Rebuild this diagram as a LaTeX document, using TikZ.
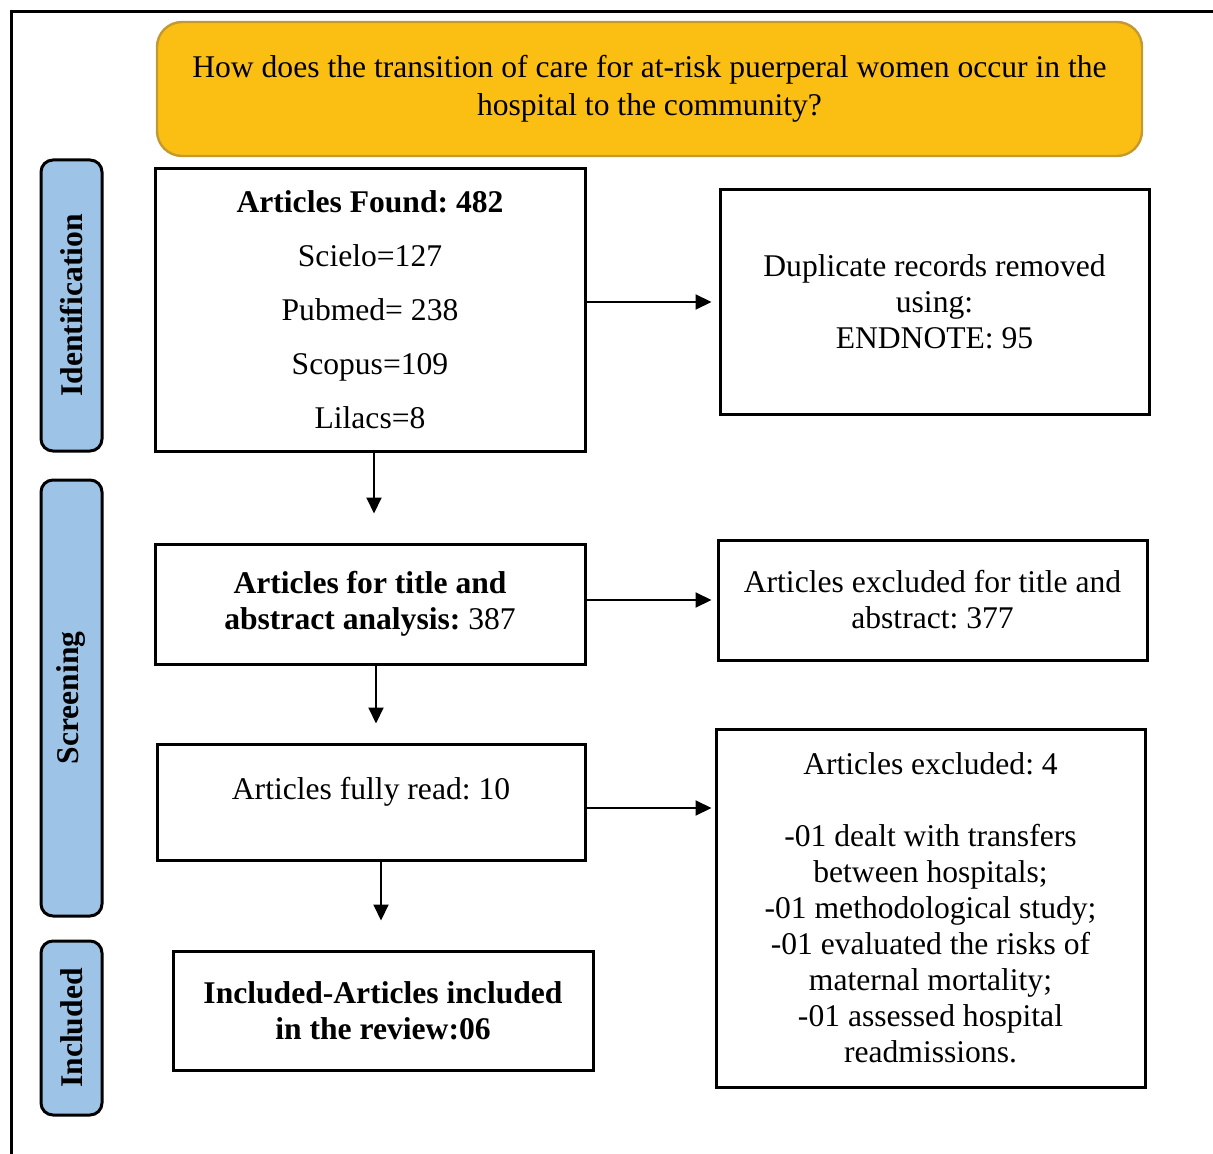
\documentclass[tikz,border=0pt]{standalone}
\usepackage{fontspec}
\setmainfont{Liberation Serif}
\usepackage{xcolor}
\definecolor{QuestionGold}{HTML}{FBBF14}
\definecolor{QuestionEdge}{HTML}{C49A30}
\definecolor{StageBlue}{HTML}{9DC3E6}
\usepackage{tikz}
\usetikzlibrary{calc,arrows.meta,positioning}
\newcommand\TextFont{\fontsize{15.8pt}{18pt}\selectfont\frenchspacing}
\newcommand\BoxW{215pt}
\newcommand\SideW{214.5pt}
\newcommand\StageW{30.5pt}
\newcommand\LineGap{9pt}
\tikzstyle{question}=[rectangle,rounded corners=12.5pt,line width=1.2pt,
                     draw=QuestionEdge,fill=QuestionGold,align=center,font=\TextFont,
                     minimum width=492.5pt,minimum height=67pt]
\tikzstyle{stage}=[rectangle,rounded corners=6pt,line width=1.5pt,draw=black,
                     fill=StageBlue,rotate=90,font=\TextFont\bfseries,
                     minimum height=\StageW]
\tikzstyle{block}=[rectangle,line width=1.5pt,draw=black,fill=white,
                     align=center,font=\TextFont,inner sep=0pt]
\tikzstyle{arrow}=[line width=1pt,-{Triangle[length=8pt,width=7.5pt]}]

\begin{document}
\begin{tikzpicture}[x=0.5pt,y=-0.5pt]
      \useasboundingbox (0,0) rectangle (1213,1154);
      \draw[line width=1.5pt] (11,1154) -- (11,12) -- (1213,12);
      \node[question] (question) at (649.5,89) {How does the transition of care for at-risk puerperal women occur in the\\[1pt]hospital to the community?};
      % stage labels
      \node[stage,minimum width=145.5pt] (ident) at (71.5,305.5) {Identification};
      \node[stage,minimum width=218pt] (screen) at (71.5,698) {Screening};
      \node[stage,minimum width=87pt] (incl) at (71.5,1028) {Included};
      % left column
      \node[block,minimum width=\BoxW,minimum height=141pt] (found) at (370,310) {\textbf{Articles Found: 482}\\[\LineGap]Scielo=127\\[\LineGap]Pubmed= 238\\[\LineGap]Scopus=109\\[\LineGap]Lilacs=8};
      \node[block,minimum width=\BoxW,minimum height=60pt] (title) at (370,604) {\textbf{Articles for title and}\\\textbf{abstract analysis:} 387};
      \node[block,minimum width=214pt,minimum height=58pt,text depth=14pt] (full) at (371,802) {Articles fully read: 10};
      \node[block,minimum width=210pt,minimum height=59.5pt] (review) at (383,1010.5) {\textbf{Included-Articles included}\\\textbf{in the review:06}};
      % right column
      \node[block,minimum width=\SideW,minimum height=112pt] (dup) at (934.5,302) {Duplicate records removed\\using:\\ENDNOTE: 95};
      \node[block,minimum width=\SideW,minimum height=60pt] (exabs) at (932.5,600) {Articles excluded for title and\\abstract: 377};
      \node[block,minimum width=\SideW,minimum height=179pt] (exfull) at (930.5,908) {Articles excluded: 4\\[18pt]-01 dealt with transfers\\between hospitals;\\-01 methodological study;\\-01 evaluated the risks of\\maternal mortality;\\-01 assessed hospital\\readmissions.};
      % connectors
      \draw[arrow,shorten >=3.5pt] (found.east |- dup.west) -- (dup.west);
      \draw[arrow,shorten >=14.5pt] ([xshift=2pt]found.south) -- ([xshift=2pt]title.north);
      \draw[arrow,shorten >=2.5pt] (title.east |- exabs.west) -- (exabs.west);
      \draw[arrow,shorten >=9.5pt] ([xshift=3pt]title.south) -- ([xshift=3pt]title.south |- full.north);
      \draw[arrow,shorten >=1.5pt] ([yshift=-3pt]full.east) -- ([yshift=-3pt]full.east -| exfull.west);
      \draw[arrow,shorten >=14.5pt] ([xshift=-1pt]full.south -| review.north) -- ([xshift=-1pt]review.north);
   \end{tikzpicture}
\end{document}
